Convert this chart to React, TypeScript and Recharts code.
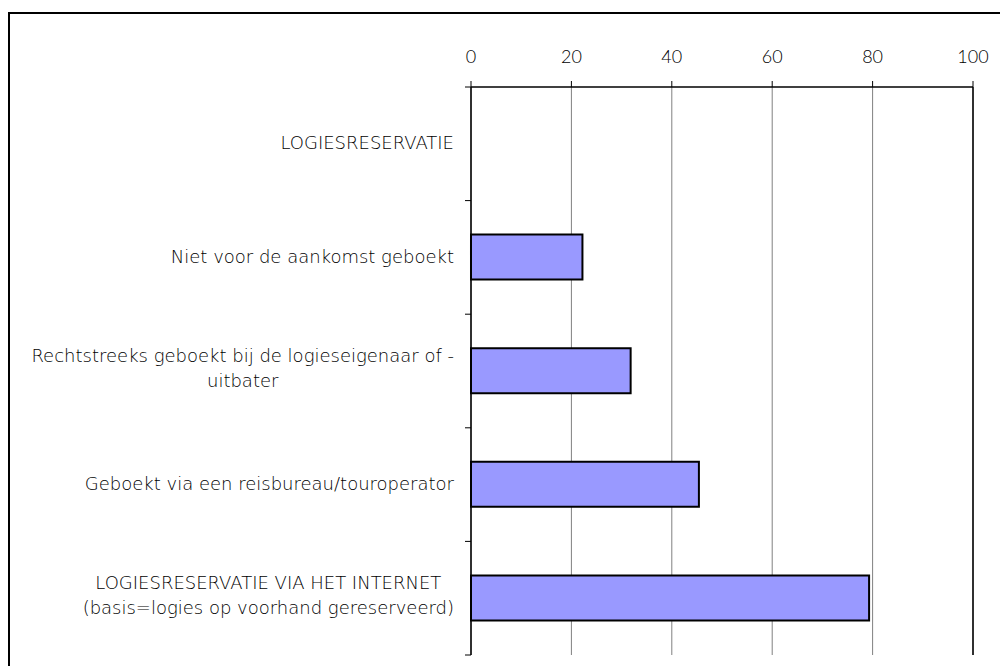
import React from 'react';
import { BarChart, Bar, XAxis, YAxis, CartesianGrid, ReferenceLine } from 'recharts';

const categories = [
  'LOGIESRESERVATIE',
  'Niet voor de aankomst geboekt',
  'Rechtstreeks geboekt bij de logieseigenaar of -\nuitbater',
  'Geboekt via een reisbureau/touroperator',
  'LOGIESRESERVATIE VIA HET INTERNET\n(basis=logies op voorhand gereserveerd)',
];
const percentages: (number | null)[] = [null, 22.2, 31.8, 45.4, 79.3];
const xTicks = [0, 20, 40, 60, 80, 100];

const data = categories.map((name, i) => ({ name, value: percentages[i] }));

const FONT = 'Lato, "Open Sans", sans-serif';
const LABEL_FONT = '"DejaVu Sans", sans-serif';
const PLOT_LEFT = 471;
const PLOT_TOP = 87;
const PLOT_BOTTOM = 655;
const BAND = (PLOT_BOTTOM - PLOT_TOP) / categories.length;

let ctx: CanvasRenderingContext2D | null = null;
function textWidth(s: string) {
  if (!ctx) ctx = document.createElement('canvas').getContext('2d');
  if (!ctx) return s.length * 9.5;
  ctx.font = `200 18px ${LABEL_FONT}`;
  return ctx.measureText(s).width;
}

function CategoryTick(props: any) {
  const { y, payload, index } = props;
  const lines = String(payload.value).split('\n');
  const right = PLOT_LEFT - 17;
  const maxW = Math.max(...lines.map(textWidth));
  const multi = lines.length > 1;
  const top = y - BAND / 2;
  return (
    <g>
      <line x1={PLOT_LEFT - 6} x2={PLOT_LEFT} y1={top} y2={top} stroke="#000" />
      {index === categories.length - 1 && (
        <line x1={PLOT_LEFT - 6} x2={PLOT_LEFT} y1={y + BAND / 2} y2={y + BAND / 2} stroke="#000" />
      )}
      {lines.map((ln, i) => (
        <text
          key={i}
          x={multi ? right - maxW / 2 : right}
          y={y + (i - (lines.length - 1) / 2) * 25 - (multi ? 3 : 1)}
          dy="0.35em"
          textAnchor={multi ? 'middle' : 'end'}
          fill="#000"
          fontSize={18}
          fontWeight={200}
          fontFamily={LABEL_FONT}
        >
          {ln}
        </text>
      ))}
    </g>
  );
}

export default function App() {
  return (
    <div style={{ position: 'absolute', left: 0, top: 0, width: 1000, height: 666, overflow: 'hidden', background: '#fff' }}>
      <div style={{ position: 'absolute', left: 8, top: 12, width: 1100, height: 800, border: '2px solid #000' }} />
      <div style={{ position: 'absolute', left: 0, top: 0 }}>
        <BarChart
          width={1000}
          height={666}
          data={data}
          layout="vertical"
          barSize={45}
          margin={{ top: 57, right: 27, bottom: 11, left: 0 }}
        >
          <CartesianGrid horizontal={false} vertical stroke="#808080" strokeWidth={1} />
          <XAxis
            type="number"
            orientation="top"
            domain={[0, 100]}
            ticks={xTicks}
            interval={0}
            height={30}
            tickSize={6}
            tickMargin={18}
            axisLine={{ stroke: '#000', strokeWidth: 1.5 }}
            tickLine={{ stroke: '#000' }}
            tick={{ fill: '#000', fontSize: 18, fontWeight: 300, fontFamily: FONT }}
          />
          <XAxis
            xAxisId="bottom"
            type="number"
            orientation="bottom"
            domain={[0, 100]}
            height={0}
            tick={false}
            tickLine={false}
            axisLine={{ stroke: '#000', strokeWidth: 1.5 }}
          />
          <YAxis
            type="category"
            dataKey="name"
            width={471}
            interval={0}
            tickLine={false}
            axisLine={{ stroke: '#000', strokeWidth: 1.5 }}
            tick={<CategoryTick />}
          />
          <ReferenceLine x={100} stroke="#000" strokeWidth={1.5} />
          <Bar dataKey="value" fill="#9999FF" stroke="#000" strokeWidth={2} isAnimationActive={false} />
        </BarChart>
      </div>
    </div>
  );
}
